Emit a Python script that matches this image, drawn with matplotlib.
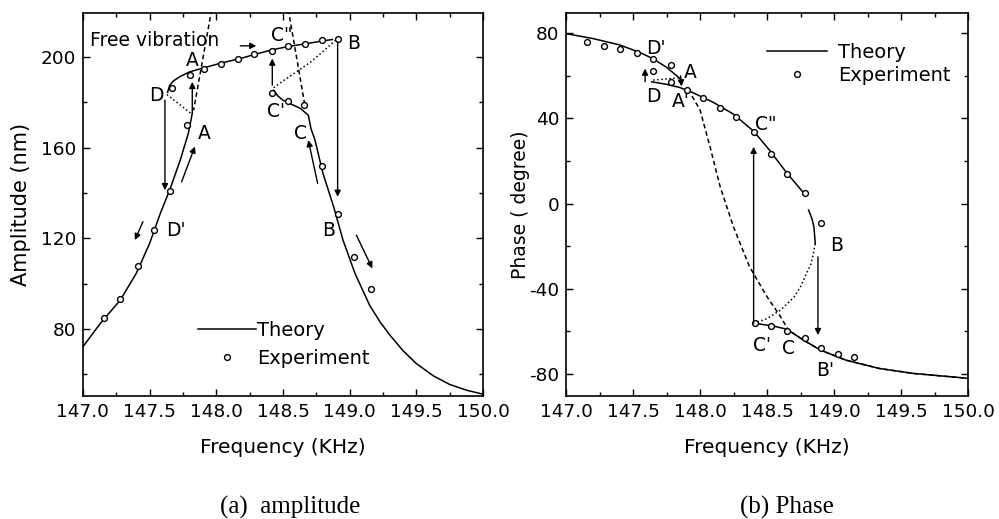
import matplotlib
matplotlib.use("Agg")
import matplotlib.pyplot as plt
from matplotlib.ticker import MultipleLocator, FormatStrFormatter

plt.rcParams['font.family'] = 'DejaVu Sans'
plt.rcParams['axes.unicode_minus'] = False

# ---- (a) amplitude data ----
amp_exp_f = [147.16, 147.28, 147.41, 147.53, 147.65, 147.78,
             147.665, 147.80, 147.91, 148.035, 148.16, 148.28, 148.415, 148.54, 148.665, 148.79, 148.91,
             148.42, 148.54, 148.66,
             148.79, 148.91, 149.03, 149.16]
amp_exp_a = [84.7, 93.5, 107.8, 123.8, 140.9, 170.0,
             186.2, 192.0, 195.0, 196.8, 199.0, 201.2, 202.6, 204.9, 206.0, 207.5, 208.2,
             184.3, 180.7, 178.8,
             152.0, 130.7, 111.7, 97.7]

amp_left_f = [147.0, 147.13, 147.28, 147.40, 147.50, 147.58, 147.65, 147.73, 147.79, 147.82]
amp_left_a = [72.2, 82.5, 92.8, 104.6, 117.8, 131.0, 141.3, 154.6, 166.3, 175.2]

amp_upper_f = [147.635, 147.65, 147.68, 147.73, 147.80, 147.93, 148.05, 148.18, 148.30, 148.43, 148.55, 148.68, 148.78, 148.87]
amp_upper_a = [184.5, 187.5, 189.6, 191.5, 193.5, 195.7, 197.6, 199.4, 201.4, 203.4, 204.8, 206.0, 207.0, 207.8]

amp_right_f = [148.43, 148.46, 148.50, 148.55, 148.63, 148.69, 148.71, 148.74, 148.80, 148.88, 148.95,
               149.04, 149.15, 149.23, 149.30, 149.40, 149.50, 149.63, 149.75, 149.88, 150.0]
amp_right_a = [185.4, 183.0, 181.0, 179.6, 177.4, 174.4, 168.5, 163.4, 148.7, 134.0, 119.3,
               104.6, 90.5, 83.0, 77.5, 70.5, 64.8, 59.3, 55.6, 53.0, 51.3]

amp_dot1_f = [147.63, 147.81]
amp_dot1_a = [183.5, 175.2]
amp_dot2_f = [148.43, 148.50, 148.60, 148.70, 148.80, 148.90]
amp_dot2_a = [186.5, 189.5, 193.5, 197.5, 202.5, 207.8]

amp_free1_f = [147.965, 147.83]
amp_free1_a = [221.0, 176.6]
amp_free2_f = [148.54, 148.665]
amp_free2_a = [221.0, 178.5]

amp_arrows = [(148.18, 205.0, 148.30, 205.0),
              (148.42, 187.6, 148.42, 199.4),
              (148.91, 206.8, 148.91, 138.4),
              (147.615, 181.0, 147.615, 141.3),
              (147.82, 175.2, 147.82, 189.1),
              (147.74, 145.0, 147.84, 160.6),
              (147.45, 127.4, 147.39, 119.3),
              (148.76, 144.3, 148.69, 163.4),
              (149.05, 121.5, 149.17, 106.8)]
amp_labels = [("A", 147.82, 198.7), ('C"', 148.49, 209.7), ("B", 149.03, 206.0),
              ("D", 147.55, 183.2), ("C'", 148.45, 175.9), ("A", 147.91, 166.3),
              ("C", 148.63, 166.3), ("D'", 147.70, 123.7), ("B", 148.84, 123.7)]

# ---- (b) phase data ----
ph_exp_f = [147.154, 147.28, 147.40, 147.53, 147.65, 147.78,
            147.65, 147.78, 147.90, 148.02, 148.15, 148.27, 148.40, 148.53, 148.65, 148.78, 148.90,
            148.41, 148.53, 148.65, 148.78, 148.90, 149.03, 149.15]
ph_exp_p = [75.9, 73.9, 72.6, 70.9, 68.1, 65.0,
            62.3, 57.1, 53.3, 49.4, 44.7, 40.7, 33.4, 23.5, 13.7, 4.8, -9.3,
            -56.2, -57.5, -59.7, -63.3, -68.0, -70.6, -72.2]

ph_upper_f = [147.0, 147.2, 147.4, 147.55, 147.65, 147.75, 147.855]
ph_upper_p = [79.8, 77.5, 74.5, 71.0, 68.0, 64.0, 58.5]

ph_mid_f = [147.64, 147.75, 147.85, 147.95, 148.10, 148.25, 148.40, 148.52, 148.64, 148.78]
ph_mid_p = [57.2, 56.0, 54.5, 52.0, 47.5, 42.0, 34.0, 25.0, 15.0, 4.5]

ph_arc_f = [148.81, 148.835, 148.85, 148.86]
ph_arc_p = [-3.0, -7.0, -11.0, -18.7]

ph_lower_f = [148.41, 148.55, 148.65, 148.77, 148.90, 149.09, 149.34, 149.59, 150.0]
ph_lower_p = [-56.2, -57.5, -59.0, -64.0, -68.8, -73.5, -77.4, -79.7, -82.0]

ph_dot1_f = [147.65, 147.84]
ph_dot1_p = [58.0, 59.0]
ph_dot2_f = [148.40, 148.50, 148.60, 148.70, 148.75, 148.80, 148.83, 148.85, 148.86]
ph_dot2_p = [-56.2, -54.0, -50.0, -44.0, -39.0, -32.0, -28.0, -22.0, -18.7]

ph_dash_f = [147.94, 148.0, 148.075, 148.15, 148.25, 148.37, 148.50, 148.60, 148.66,
             148.77, 148.90, 149.09, 149.34, 149.59, 150.0]
ph_dash_p = [50.5, 44.0, 26.6, 8.0, -11.0, -29.7, -43.7, -53.0, -59.4,
             -64.0, -68.8, -73.5, -77.4, -79.7, -82.0]

ph_arrows = [(147.59, 57.2, 147.59, 63.4),
             (147.855, 60.0, 147.862, 55.0),
             (148.40, -56.2, 148.40, 26.7),
             (148.88, -25.0, 148.88, -61.7)]
ph_labels = [("D'", 147.67, 72.8), ("A", 147.93, 61.4), ("D", 147.65, 50.1),
             ("A'", 147.86, 47.8), ('C"', 148.49, 37.0), ("B", 149.02, -19.5),
             ("C'", 148.46, -66.4), ("C", 148.66, -68.0), ("B'", 148.93, -78.2)]

LW = 1.1
fs_tick = 13.3
fs_xlab = 14.5
fs_txt = 13.5
fs_leg = 14


def style(ax, ymaj, ymin):
    ax.xaxis.set_major_locator(MultipleLocator(0.5))
    ax.xaxis.set_minor_locator(MultipleLocator(0.25))
    ax.yaxis.set_major_locator(MultipleLocator(ymaj))
    ax.yaxis.set_minor_locator(MultipleLocator(ymin))
    ax.xaxis.set_major_formatter(FormatStrFormatter('%.1f'))
    ax.tick_params(which='both', direction='in', top=True, right=True, labelsize=fs_tick, width=1.0)
    ax.tick_params(which='major', length=5, pad=5)
    ax.tick_params(which='minor', length=3)
    for s in ax.spines.values():
        s.set_linewidth(1.2)


def arrow(ax, x0, y0, x1, y1):
    ax.annotate('', xy=(x1, y1), xytext=(x0, y0),
                arrowprops=dict(arrowstyle='-|>', color='k', lw=1.0, mutation_scale=9,
                                shrinkA=0, shrinkB=0))


fig = plt.figure(figsize=(9.99, 5.19), dpi=100)
ax1 = fig.add_axes([0.083, 0.237, 0.4005, 0.738])
ax2 = fig.add_axes([0.5666, 0.237, 0.4024, 0.738])

# ---- panel (a) ----
th1, = ax1.plot(amp_left_f, amp_left_a, 'k-', lw=LW)
ax1.plot(amp_upper_f, amp_upper_a, 'k-', lw=LW)
ax1.plot(amp_right_f, amp_right_a, 'k-', lw=LW)
ax1.plot(amp_dot1_f, amp_dot1_a, 'k:', lw=LW)
ax1.plot(amp_dot2_f, amp_dot2_a, 'k:', lw=LW)
ax1.plot(amp_free1_f, amp_free1_a, 'k--', lw=LW, dashes=(3, 2))
ax1.plot(amp_free2_f, amp_free2_a, 'k--', lw=LW, dashes=(3, 2))
ex1, = ax1.plot(amp_exp_f, amp_exp_a, 'o', ms=4.2, mfc='white', mec='k', mew=1.0, ls='none')
for a in amp_arrows:
    arrow(ax1, *a)
for t, x, y in amp_labels:
    ax1.text(x, y, t, ha='center', va='center', fontsize=fs_txt)
ax1.text(147.05, 207.5, "Free vibration", ha='left', va='center', fontsize=fs_txt)
ax1.set_xlim(147.0, 150.0)
ax1.set_ylim(50.5, 219.5)
style(ax1, 40, 20)
ax1.set_xlabel("Frequency (KHz)", fontsize=fs_xlab)
ax1.set_ylabel("Amplitude (nm)", fontsize=15)
ax1.xaxis.set_label_coords(0.5, -0.11)
ax1.yaxis.set_label_coords(-0.13, 0.5)
ax1.legend([th1, ex1], ["Theory", "Experiment"], loc='upper left', bbox_to_anchor=(0.2875, 0.197),
           frameon=False, fontsize=fs_leg, handlelength=3.0, handletextpad=0.05, labelspacing=0.5,
           borderpad=0, borderaxespad=0)

# ---- panel (b) ----
th2, = ax2.plot(ph_upper_f, ph_upper_p, 'k-', lw=LW)
ax2.plot(ph_mid_f, ph_mid_p, 'k-', lw=LW)
ax2.plot(ph_arc_f, ph_arc_p, 'k-', lw=LW)
ax2.plot(ph_lower_f, ph_lower_p, 'k-', lw=LW)
ax2.plot(ph_dot1_f, ph_dot1_p, 'k:', lw=LW)
ax2.plot(ph_dot2_f, ph_dot2_p, 'k:', lw=LW)
ax2.plot(ph_dash_f, ph_dash_p, 'k--', lw=LW, dashes=(3, 2))
ex2, = ax2.plot(ph_exp_f, ph_exp_p, 'o', ms=4.2, mfc='white', mec='k', mew=1.0, ls='none')
for a in ph_arrows:
    arrow(ax2, *a)
for t, x, y in ph_labels:
    ax2.text(x, y, t, ha='center', va='center', fontsize=fs_txt)
ax2.set_xlim(147.0, 150.0)
ax2.set_ylim(-90.3, 89.5)
style(ax2, 40, 20)
ax2.set_xlabel("Frequency (KHz)", fontsize=fs_xlab)
ax2.set_ylabel("Phase ( degree)", fontsize=13.5)
ax2.xaxis.set_label_coords(0.5, -0.11)
ax2.yaxis.set_label_coords(-0.09, 0.5)
ax2.legend([th2, ex2], ["Theory", "Experiment"], loc='upper left', bbox_to_anchor=(0.5, 0.921),
           frameon=False, fontsize=fs_leg, handlelength=3.1, handletextpad=0.55, labelspacing=0.2,
           borderpad=0, borderaxespad=0)

fig.text(290 / 999, 1 - 507 / 519, "(a)  amplitude", ha='center', va='center',
         family='Liberation Serif', fontsize=18)
fig.text(787 / 999, 1 - 507 / 519, "(b) Phase", ha='center', va='center',
         family='Liberation Serif', fontsize=18)

fig.savefig("out.png", dpi=100)
